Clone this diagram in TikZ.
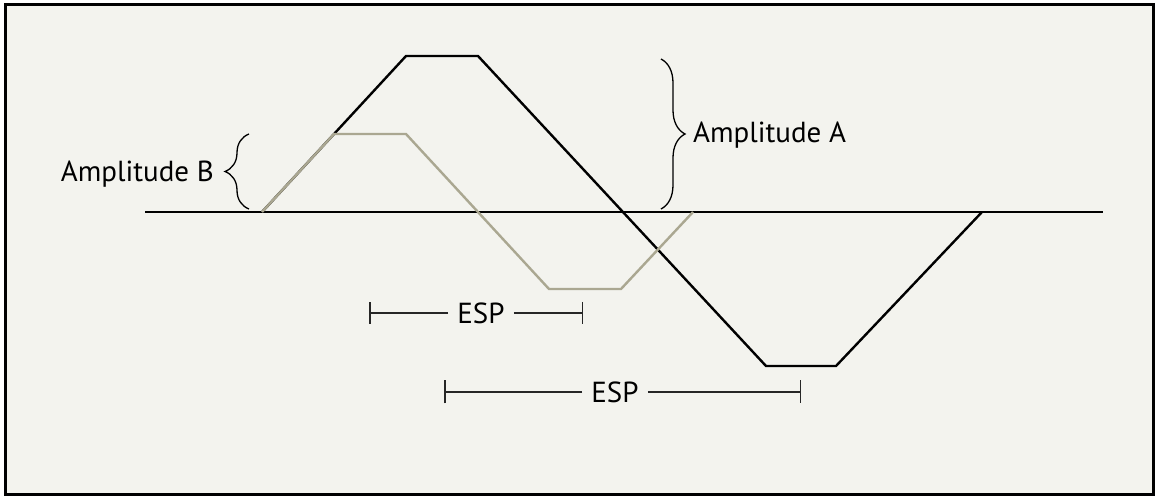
\documentclass[tikz,border=0pt]{standalone}
\usepackage{fontspec}
\setmainfont{PT Sans}
\usetikzlibrary{arrows.meta,decorations.pathreplacing}
\definecolor{paper}{RGB}{243,243,238}
\definecolor{khaki}{RGB}{170,167,145}
\begin{document}
\begin{tikzpicture}[
    x=1pt, y=-1pt,
    font=\fontsize{29}{33}\selectfont,
    frame/.style={draw=black, line width=2.6pt, fill=paper},
    axis/.style={draw=black, line width=1.3pt},
    waveA/.style={draw=black, line width=2.4pt, line join=miter},
    waveB/.style={draw=khaki, line width=2.4pt, line join=miter},
    ampbrace/.style={decorate, decoration={brace, amplitude=24pt}, line width=1.3pt},
    lbl/.style={inner sep=0pt},
    esplbl/.style={inner sep=9pt},
    esp/.style={draw=black!85, line width=1.5pt},
]
    % Frame and margins
    \useasboundingbox (0,0) rectangle (1157,497);
    \draw[frame] (5.5,4.5) rectangle (1153.5,494.5);

    % Zero line
    \coordinate (zl) at (145,212);
    \coordinate (zr) at (1103,212);
    \draw[axis] (zl) -- (zr);

    % Large wave (amplitude A)
    \coordinate (a0) at (262,212);
    \coordinate (a1) at (406,56);
    \coordinate (a2) at (478,56);
    \coordinate (a3) at (766,366);
    \coordinate (a4) at (836,366);
    \coordinate (a5) at (982,212);
    \draw[waveA] (a0) -- (a1) -- (a2) -- (a3) -- (a4) -- (a5);

    % Small wave (amplitude B)
    \coordinate (b1) at (334,134);
    \coordinate (b2) at (406,134);
    \coordinate (b3) at (549,289);
    \coordinate (b4) at (621,289);
    \coordinate (b5) at (693,212);
    \draw[waveB] (a0) -- (b1) -- (b2) -- (b3) -- (b4) -- (b5);

    % Amplitude braces
    \coordinate (braceAtop) at (661,59);
    \coordinate (braceAbot) at (661,209);
    \coordinate (braceBtop) at (249,134);
    \coordinate (braceBbot) at (249,209);
    \draw[ampbrace] (braceAtop) -- (braceAbot);
    \draw[ampbrace] (braceBbot) -- (braceBtop);
    \node[lbl, anchor=base west] (ampA) at (693,143) {Amplitude A};
    \node[lbl, anchor=base east] (ampB) at (214,182) {Amplitude B};

    % ESP bars
    \node[esplbl, anchor=base] (espS) at (481,323) {ESP};
    \node[esplbl, anchor=base] (espL) at (615,402) {ESP};
    \coordinate (espSl) at (369,312);
    \coordinate (espSr) at (583,312);
    \coordinate (espLl) at (444,389);
    \coordinate (espLr) at (801,389);
    \draw[esp, -{Bar[width=22pt]}] (espS.west) -- (espS.west -| espSl);
    \draw[esp, -{Bar[width=22pt]}] (espS.east) -- (espS.east -| espSr);
    \draw[esp, -{Bar[width=23pt]}] (espL.west) -- (espL.west -| espLl);
    \draw[esp, -{Bar[width=23pt]}] (espL.east) -- (espL.east -| espLr);
\end{tikzpicture}
\end{document}
